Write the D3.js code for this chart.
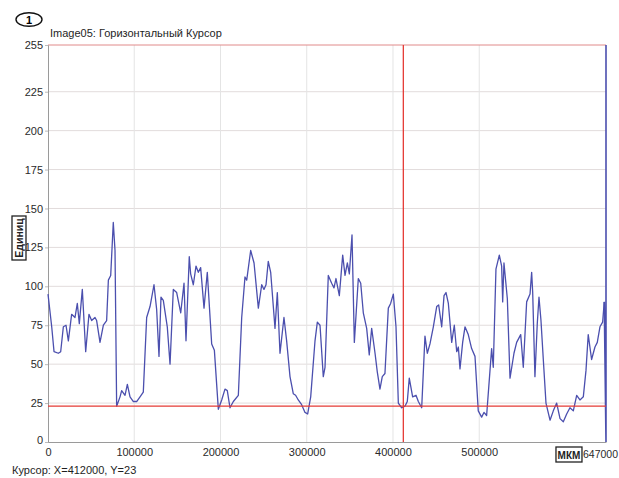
<!DOCTYPE html>
<html>
<head>
<meta charset="utf-8">
<script src="https://cdn.jsdelivr.net/npm/d3@7"></script>
<style>
  body { margin: 0; background: #fff; }
  text { font-family: "Liberation Sans", Arial, sans-serif; }
</style>
</head>
<body>
<div id="chart"></div>
<script>
// positions along the profile, in мкм
var xPos = [
  0, 4300, 7000, 12000, 14700, 17800, 20900, 23600, 27400, 31300, 34000, 36300, 39800, 43700,
  47500, 50600, 54500, 56400, 60300, 64200, 68000, 70000, 72700, 75700, 77700, 79600, 83500,
  85400, 89300, 92000, 95100, 99000, 102800, 106700, 110500, 114400, 118300, 122900, 126000,
  128700, 131000, 133700, 138300, 141500, 145300, 149200, 153900, 157700, 160000, 163800,
  165400, 168500, 171600, 174300, 177000, 180900, 184700, 189800, 192900, 197500, 201400,
  205200, 207900, 211000, 214900, 220700, 224600, 228400, 230400, 235000, 238900, 243900,
  247800, 250400, 252800, 255400, 258200, 263200, 265900, 269000, 273600, 276700, 280600,
  284400, 287100, 290200, 294100, 298000, 301100, 304600, 309600, 312300, 315400, 319200,
  321200, 325000, 328900, 331600, 333900, 337800, 341700, 344400, 347100, 349400, 352500,
  355200, 359800, 362600, 365600, 369500, 372500, 375300, 379200, 381800, 384900, 387600,
  390700, 394600, 397300, 400400, 403500, 406200, 410100, 413900, 416600, 418900, 422800,
  426700, 429400, 433300, 437100, 439800, 442900, 446800, 450700, 453000, 456500, 459200,
  461500, 464200, 468100, 471100, 473900, 475800, 477700, 480800, 483500, 487300, 491200,
  495100, 498900, 502800, 505500, 508600, 512500, 514400, 516300, 519400, 523300, 526000,
  527200, 528700, 532600, 535700, 540300, 543400, 548100, 551100, 555000, 558900, 560800,
  562000, 564600, 567300, 569300, 571600, 574300, 577400, 582100, 585900, 589800, 593700,
  597500, 601400, 605200, 609100, 613000, 616800, 620700, 623800, 626400, 630300, 634200,
  636900, 640000, 643100, 645000
];

// brightness, единиц
var values = [
  95, 74, 58, 57, 58, 74, 75, 65, 82, 80, 89, 76, 98, 58,
  82, 78, 80, 78, 64, 75, 78, 104, 107, 141, 123, 23, 29,
  33, 30, 37, 29, 26, 26, 29, 32, 80, 87, 101, 85,
  55, 93, 91, 74, 50, 98, 96, 83, 102, 65, 119,
  108, 101, 113, 109, 112, 86, 109, 63, 59, 21, 27,
  34, 33, 22, 26, 30, 80, 106, 104, 123, 115, 86,
  101, 98, 101, 116, 109, 73, 96, 57, 80, 65, 42,
  31, 30, 27, 24, 19, 18, 29, 65, 77, 75, 42,
  48, 107, 102, 99, 105, 94, 120, 107, 115, 108, 133,
  64, 105, 102, 83, 73, 56, 73, 57, 45, 34, 42,
  44, 86, 89, 95, 74, 25, 22, 23, 26, 41, 29,
  30, 26, 22, 68, 57, 63, 74, 87, 88, 74, 94,
  96, 89, 64, 75, 58, 61, 47, 64, 74, 69, 60,
  55, 20, 16, 19, 17, 46, 60, 48, 111, 120, 113,
  90, 115, 92, 41, 57, 64, 69, 48, 90, 95, 109,
  96, 42, 76, 93, 78, 53, 25, 14, 20, 25, 15,
  13, 18, 22, 20, 30, 27, 29, 46, 69, 53, 61,
  64, 74, 77, 90
];

var yTicks = [0, 25, 50, 75, 100, 125, 150, 175, 200, 225, 255];
var yGrid = [25, 50, 75, 100, 125, 150, 175, 200, 225];
var xTicks = [0, 100000, 200000, 300000, 400000, 500000];
var xEnd = 647000;
var unitAt = 589000;

var cursorX = 412000, cursorY = 23;
var titleText = "Image05: Горизонтальный Курсор";
var cursorText = "Курсор: X=412000, Y=23";

function init() {

    var width = 619, height = 478;
    var margin = {top: 45, right: 13, bottom: 36, left: 48};
    var w = width - margin.left - margin.right,
        h = height - margin.top - margin.bottom;

    var data = xPos.map(function(d, i) { return {x: d, y: values[i]}; });

    var xScale = d3.scaleLinear().domain([0, xEnd]).range([0, w]);
    var yScale = d3.scaleLinear().domain([0, 255]).range([h, 0]);

    var root = d3.select("#chart").append("svg")
        .attr("width", width)
        .attr("height", height);

    // header: numbered ellipse + title
    root.append("ellipse")
        .attr("cx", 29).attr("cy", 19.5).attr("rx", 13).attr("ry", 6.8)
        .attr("fill", "none").attr("stroke", "#111").attr("stroke-width", 1.4);
    root.append("text")
        .attr("x", 29).attr("y", 23.5)
        .attr("text-anchor", "middle")
        .attr("font-size", 11).attr("font-weight", "bold")
        .text("1");
    root.append("text")
        .attr("x", 50).attr("y", 36.5)
        .attr("font-size", 11).attr("fill", "#1e1e1e")
        .text(titleText);

    var svg = root.append("g")
        .attr("transform", "translate(" + margin.left + "," + margin.top + ")");

    // grid
    svg.append("g").selectAll("line.hg")
        .data(yGrid).enter().append("line")
        .attr("x1", 0).attr("x2", w)
        .attr("y1", function(d) { return yScale(d); })
        .attr("y2", function(d) { return yScale(d); })
        .attr("stroke", "#e2dcdc").attr("stroke-width", 1);

    svg.append("g").selectAll("line.vg")
        .data(xTicks.slice(1)).enter().append("line")
        .attr("x1", function(d) { return xScale(d); })
        .attr("x2", function(d) { return xScale(d); })
        .attr("y1", 0).attr("y2", h)
        .attr("stroke", "#e4e4e4").attr("stroke-width", 1);

    // top border
    svg.append("line")
        .attr("x1", 0).attr("x2", w)
        .attr("y1", yScale(255)).attr("y2", yScale(255))
        .attr("stroke", "#e08a8a").attr("stroke-width", 1);

    // axes
    var yAxis = d3.axisLeft(yScale).tickValues(yTicks).tickSize(3).tickPadding(2);
    var gy = svg.append("g").attr("class", "y axis").call(yAxis);

    var xAxis = d3.axisBottom(xScale).tickValues(xTicks).tickSize(0).tickPadding(6)
        .tickFormat(d3.format("d"));
    var gx = svg.append("g").attr("class", "x axis")
        .attr("transform", "translate(0," + h + ")")
        .call(xAxis);

    [gx, gy].forEach(function(g) {
        g.select(".domain").attr("stroke", "#9a9a9a");
        g.selectAll(".tick line").attr("stroke", "#bbb");
        g.selectAll(".tick text")
            .attr("font-family", "Liberation Sans, Arial, sans-serif")
            .attr("font-size", 11).attr("fill", "#2a2a2a");
    });
    gy.selectAll(".tick text").filter(function(d) { return d === 0; })
        .attr("dy", "0.1em");

    // end label of x axis and unit box
    gx.append("text")
        .attr("x", w + margin.right - 1).attr("y", 16)
        .attr("text-anchor", "end")
        .attr("font-size", 10.5).attr("fill", "#2a2a2a")
        .text(d3.format("d")(xEnd));

    var unit = gx.append("g").attr("transform", "translate(" + xScale(unitAt) + ",5)");
    unit.append("rect")
        .attr("x", 0).attr("y", 0).attr("width", 26).attr("height", 15)
        .attr("fill", "#fff").attr("stroke", "#222").attr("stroke-width", 1.3);
    unit.append("text")
        .attr("x", 13).attr("y", 11.5)
        .attr("text-anchor", "middle")
        .attr("font-size", 10).attr("font-weight", "bold").attr("fill", "#222")
        .text("МКМ");

    // y axis label, boxed and rotated
    var ylab = root.append("g").attr("transform", "translate(19,238) rotate(-90)");
    ylab.append("rect")
        .attr("x", -22).attr("y", -7).attr("width", 44).attr("height", 14)
        .attr("fill", "#fff").attr("stroke", "#222").attr("stroke-width", 1.3);
    ylab.append("text")
        .attr("x", 0).attr("y", 4)
        .attr("text-anchor", "middle")
        .attr("font-size", 10.5).attr("font-weight", "bold").attr("fill", "#222")
        .text("Единиц");

    // data line
    var valueline = d3.line()
        .x(function(d) { return xScale(d.x); })
        .y(function(d) { return yScale(d.y); });

    svg.append("path")
        .datum(data)
        .attr("fill", "none")
        .attr("stroke", "#4b4fae")
        .attr("stroke-width", 1.3)
        .attr("stroke-linejoin", "round")
        .attr("d", valueline);

    // end marker of the profile
    svg.append("path")
        .datum([{x: data[data.length - 1].x, y: data[data.length - 1].y}, {x: xEnd, y: 0}, {x: xEnd, y: 255}])
        .attr("fill", "none")
        .attr("stroke", "#4b4fae")
        .attr("stroke-width", 1.6)
        .attr("d", valueline);

    // cursor lines
    svg.append("line")
        .attr("x1", 0).attr("x2", w)
        .attr("y1", yScale(cursorY)).attr("y2", yScale(cursorY))
        .attr("stroke", "#e53a35").attr("stroke-width", 1.3);
    svg.append("line")
        .attr("x1", xScale(cursorX)).attr("x2", xScale(cursorX))
        .attr("y1", 0).attr("y2", h)
        .attr("stroke", "#e53a35").attr("stroke-width", 1.3);

    // cursor readout
    root.append("text")
        .attr("x", 12).attr("y", 474)
        .attr("font-size", 11).attr("fill", "#1e1e1e")
        .text(cursorText);
}

window.onload = init;
</script>
</body>
</html>
